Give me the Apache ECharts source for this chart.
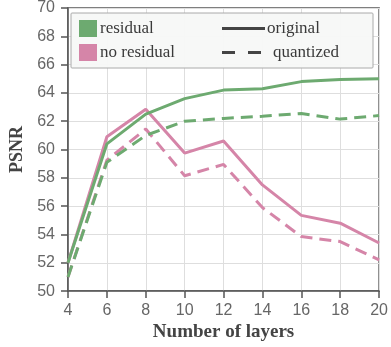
<!DOCTYPE html>
<html>
<head>
<meta charset="utf-8">
<script src="https://cdn.jsdelivr.net/npm/echarts@6/dist/echarts.min.js"></script>
<style>html,body{margin:0;padding:0;background:#fff}#c{width:391px;height:347px}</style>
</head>
<body>
<div id="c"></div>
<script>
var layers = [4, 6, 8, 10, 12, 14, 16, 18, 20];
var residualOriginal   = [52.0, 60.4, 62.5, 63.6, 64.2, 64.3, 64.8, 64.95, 65.0];
var residualQuantized  = [51.0, 59.1, 61.0, 62.0, 62.2, 62.35, 62.55, 62.15, 62.4];
var noResOriginal      = [52.0, 60.9, 62.85, 59.75, 60.6, 57.5, 55.35, 54.8, 53.4];
var noResQuantized     = [51.0, 59.25, 61.45, 58.15, 58.95, 55.9, 53.85, 53.5, 52.2];
var xTicks = [4, 6, 8, 10, 12, 14, 16, 18, 20];
var yTicks = [50, 52, 54, 56, 58, 60, 62, 64, 66, 68, 70];
var legendColorLabels = ['residual', 'no residual'];
var legendStyleLabels = ['original', 'quantized'];

var GREEN = '#6daa70', PINK = '#d585a8';
function pairs(ys){ return layers.map(function(x,i){ return [x, ys[i]]; }); }

var chart = echarts.init(document.getElementById('c'), null, {renderer:'canvas'});
var sans = 'Liberation Sans, Arial, sans-serif';
var serif = 'Liberation Serif, Times New Roman, serif';

function lineSeries(name, ys, color, dashed){
  return {
    name: name, type: 'line', data: pairs(ys), showSymbol: false, symbol: 'none',
    lineStyle: {color: color, width: 3, type: dashed ? [12, 7] : 'solid', cap: 'butt'},
    animation: false
  };
}

chart.setOption({
  animation: false,
  grid: {left: 64, right: 10, top: 7.5, bottom: 53.5, show: true, borderColor: '#555', borderWidth: 1.5, backgroundColor: 'transparent'},
  xAxis: {
    type: 'value', min: xTicks[0], max: xTicks[xTicks.length-1], interval: 2,
    name: 'Number of layers', nameLocation: 'middle', nameGap: 25,
    nameTextStyle: {fontFamily: serif, fontWeight: 'bold', fontSize: 19, color: '#444'},
    axisLine: {show: true, lineStyle: {color: '#555', width: 1.5}},
    axisTick: {show: true, length: 7, lineStyle: {color: '#555', width: 1.5}},
    axisLabel: {fontFamily: sans, fontSize: 16, color: '#666', margin: 11},
    splitLine: {show: true, lineStyle: {color: '#dedede', width: 1}}
  },
  yAxis: {
    type: 'value', min: yTicks[0], max: yTicks[yTicks.length-1], interval: 2,
    name: 'PSNR', nameLocation: 'middle', nameGap: 42,
    nameTextStyle: {fontFamily: serif, fontWeight: 'bold', fontSize: 18, color: '#444'},
    axisLine: {show: true, lineStyle: {color: '#555', width: 1.5}},
    axisTick: {show: true, length: 7, lineStyle: {color: '#555', width: 1.5}},
    axisLabel: {fontFamily: sans, fontSize: 16, color: '#666', margin: 13},
    splitLine: {show: true, lineStyle: {color: '#dedede', width: 1}}
  },
  series: [
    lineSeries('no residual quantized', noResQuantized, PINK, true),
    lineSeries('no residual original', noResOriginal, PINK, false),
    lineSeries('residual quantized', residualQuantized, GREEN, true),
    lineSeries('residual original', residualOriginal, GREEN, false)
  ],
  graphic: [
    {type: 'rect', shape: {x: 71, y: 13, width: 302, height: 55, r: 1},
     style: {fill: 'rgba(247,248,247,0.95)', stroke: '#aaa', lineWidth: 1}, z: 100},
    {type: 'rect', shape: {x: 79, y: 20, width: 18, height: 17}, style: {fill: GREEN}, z: 101},
    {type: 'rect', shape: {x: 79, y: 44, width: 18, height: 17}, style: {fill: PINK}, z: 101},
    {type: 'text', x: 100, y: 28.5, style: {text: legendColorLabels[0], font: '17px ' + serif, fill: '#3a3a3a', verticalAlign: 'middle'}, z: 101},
    {type: 'text', x: 100, y: 52.5, style: {text: legendColorLabels[1], font: '17px ' + serif, fill: '#3a3a3a', verticalAlign: 'middle'}, z: 101},
    {type: 'line', shape: {x1: 222, y1: 28.5, x2: 265, y2: 28.5}, style: {stroke: '#444', lineWidth: 3}, z: 101},
    {type: 'line', shape: {x1: 222, y1: 52.5, x2: 262, y2: 52.5}, style: {stroke: '#444', lineWidth: 3, lineDash: [13, 13]}, z: 101},
    {type: 'text', x: 267, y: 28.5, style: {text: legendStyleLabels[0], font: '17px ' + serif, fill: '#3a3a3a', verticalAlign: 'middle'}, z: 101},
    {type: 'text', x: 273, y: 52.5, style: {text: legendStyleLabels[1], font: '17px ' + serif, fill: '#3a3a3a', verticalAlign: 'middle'}, z: 101}
  ]
});
</script>
</body>
</html>
